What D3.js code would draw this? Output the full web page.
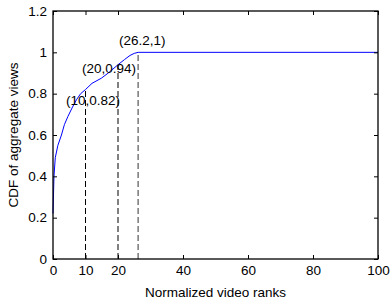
<!DOCTYPE html>
<html>
<head>
<meta charset="utf-8">
<script src="https://cdn.jsdelivr.net/npm/d3@7"></script>
<style>
  html, body { margin: 0; padding: 0; background: #fff; }
  svg { display: block; }
  text { font-family: "Liberation Sans", Arial, sans-serif; fill: #000; }
</style>
</head>
<body>
<svg id="chart" width="390" height="304"></svg>
<script>
// ---- data ----
const ranks = [0, 0.3, 0.7, 1.5, 2.6, 3.5, 4.6, 6, 7.2, 8.5, 10, 12, 14.9, 17, 20, 22, 23.7, 25, 26.2, 100];
const cdf   = [0.22, 0.40, 0.49, 0.55, 0.60, 0.65, 0.69, 0.735, 0.77, 0.80, 0.82, 0.85, 0.875, 0.90, 0.94, 0.965, 0.985, 0.995, 1, 1];
const markX = [10, 20, 26.2];
const markY = [0.82, 0.94, 1];
const markLabels = ["(10,0.82)", "(20,0.94)", "(26.2,1)"];
const xTicks = [0, 10, 20, 40, 60, 80, 100];
const yTicks = [0, 0.2, 0.4, 0.6, 0.8, 1, 1.2];
const xTitle = "Normalized video ranks";
const yTitle = "CDF of aggregate views";

// ---- layout ----
const L = 53, R = 378, T = 11, B = 259;
const svg = d3.select("#chart");
const x = d3.scaleLinear().domain([0, 100]).range([L, R]);
const y = d3.scaleLinear().domain([0, 1.2]).range([B, T]);
const fs = 13.5;

// dashed markers
const markColors = ["#000", "#000", "#808080"];
const markWidths = [1, 1, 1.6];
markX.forEach((mx, i) => {
  svg.append("line")
    .attr("x1", x(mx)).attr("x2", x(mx))
    .attr("y1", y(0)).attr("y2", y(markY[i]))
    .attr("stroke", markColors[i]).attr("stroke-width", markWidths[i])
    .attr("stroke-dasharray", "6,3");
});

// curve
const pts = ranks.map((r, i) => [r, cdf[i]]);
svg.append("path")
  .datum(pts)
  .attr("fill", "none")
  .attr("stroke", "#0000ff")
  .attr("stroke-width", 1)
  .attr("d", d3.line().x(d => x(d[0])).y(d => y(d[1])));

// axes (box with inward ticks)
const tl = 4;
const gB = svg.append("g").attr("transform", `translate(0,${B})`)
  .call(d3.axisBottom(x).tickValues(xTicks).tickSizeInner(-tl).tickSizeOuter(0).tickPadding(6).tickFormat(d3.format("d")));
const gT = svg.append("g").attr("transform", `translate(0,${T})`)
  .call(d3.axisTop(x).tickValues(xTicks).tickSizeInner(-tl).tickSizeOuter(0).tickFormat(""));
const gL = svg.append("g").attr("transform", `translate(${L},0)`)
  .call(d3.axisLeft(y).tickValues(yTicks).tickSizeInner(-tl).tickSizeOuter(0).tickPadding(6).tickFormat(d => d === 0 || d === 1 ? d3.format("d")(d) : d3.format(".1f")(d)));
const gR = svg.append("g").attr("transform", `translate(${R},0)`)
  .call(d3.axisRight(y).tickValues(yTicks).tickSizeInner(-tl).tickSizeOuter(0).tickFormat(""));
[gB, gT, gL, gR].forEach(g => {
  g.select(".domain").remove();
  g.selectAll(".tick line").attr("stroke", "#000").attr("stroke-width", 1);
  g.selectAll("text").style("font-size", fs + "px").style("font-family", '"Liberation Sans", Arial, sans-serif').attr("fill", "#000");
});
gB.selectAll("text").attr("dy", "0.71em");

svg.append("rect")
  .attr("x", L).attr("y", T).attr("width", R - L).attr("height", B - T)
  .attr("fill", "none").attr("stroke", "#000").attr("stroke-width", 1.3);

// annotations
const labelPos = [[66, 100], [82, 68], [119, 40]];
markLabels.forEach((t, i) => {
  svg.append("text")
    .attr("x", labelPos[i][0]).attr("y", labelPos[i][1])
    .attr("dy", "0.35em")
    .style("font-size", fs + "px")
    .text(t);
});

// titles
svg.append("text")
  .attr("x", (L + R) / 2).attr("y", 292).attr("dy", "0.35em")
  .attr("text-anchor", "middle").style("font-size", fs + "px")
  .text(xTitle);
svg.append("text")
  .attr("transform", `translate(13,${(T + B) / 2}) rotate(-90)`)
  .attr("dy", "0.35em")
  .attr("text-anchor", "middle").style("font-size", fs + "px")
  .text(yTitle);
</script>
</body>
</html>
